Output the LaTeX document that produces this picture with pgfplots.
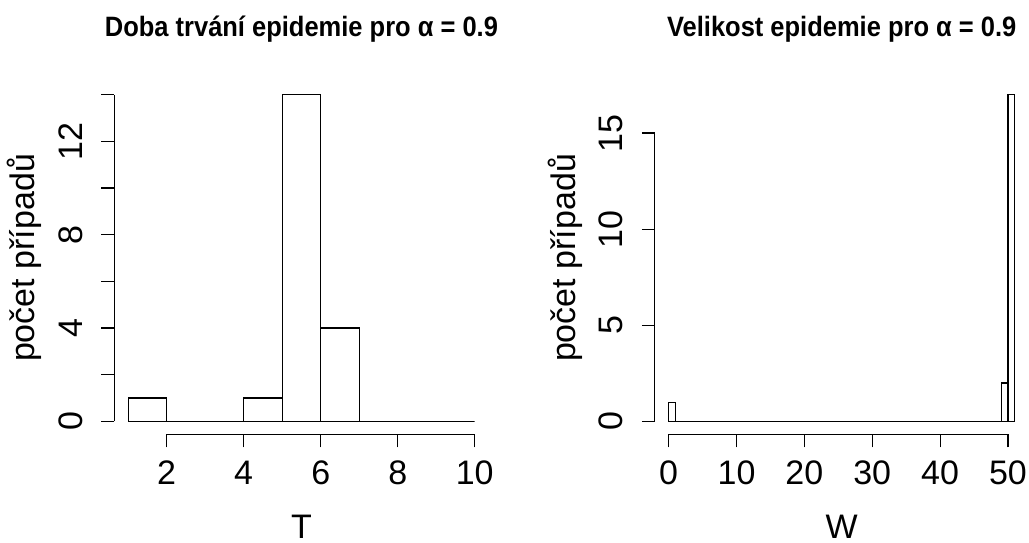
\documentclass[border=0pt]{standalone}
\usepackage{pgfplots}
\pgfplotsset{compat=1.18}
\usepackage{fontspec}
\setmainfont{Liberation Sans}
\newfontfamily\titlefont{Liberation Sans Bold}[FakeStretch=0.91]
\pgfplotsset{
  rhist/.style={
    scale only axis,
    clip=false,
    axis lines=left,
    axis line style={draw=none},
    tick align=outside,
    major tick length=13pt,
    tick style={black, line width=1.2pt},
    /pgf/number format/assume math mode=true,
    tick label style={font=\fontsize{34}{34}\selectfont},
    label style={font=\fontsize{34}{34}\selectfont, inner sep=0pt},
    title style={font=\fontsize{28}{28}\titlefont, inner sep=0pt},
    xticklabel style={anchor=base},
    xticklabel shift={36.6pt},
    yticklabel style={rotate=90, anchor=base},
    yticklabel shift={19pt},
    xlabel style={at={(axis description cs:0.5,-0.294)}, anchor=base},
    ylabel style={at={(axis description cs:-0.213,0.5)}, anchor=base, rotate=0},
    title style={at={(axis description cs:0.5,1.112)}, anchor=base, yshift=0pt},
  }
}
\begin{document}
\begin{tikzpicture}
\useasboundingbox (0pt,0pt) rectangle (1029pt,542pt);
\begin{axis}[rhist,
  at={(114.3pt,107.6pt)}, anchor=south west,
  width=374.3pt, height=352.8pt,
  xmin=0.64, xmax=10.36, ymin=-0.56, ymax=14.56,
  xtick={2,4,6,8,10},
  ytick={0,2,4,6,8,10,12,14},
  yticklabels={0,,4,,8,,12,},
  title={Doba trvání epidemie pro α = 0.9},
  xlabel={T}, ylabel={počet případů}]
\addplot[ybar interval, fill=white, draw=black, line width=1.2pt]
  coordinates {(1,1) (2,0) (3,0) (4,1) (5,14) (6,4) (7,0) (8,0) (9,0) (10,0)};
\draw[black, line width=1.2pt] (axis cs:2,-0.56) -- (axis cs:10,-0.56);
\draw[black, line width=1.2pt] (axis cs:0.64,0) -- (axis cs:0.64,14);
\end{axis}
\begin{axis}[rhist,
  at={(654.8pt,107.6pt)}, anchor=south west,
  width=373.8pt, height=352.8pt,
  xmin=-2.04, xmax=53.04, ymin=-0.68, ymax=17.68,
  xtick={0,10,20,30,40,50},
  ytick={0,5,10,15},
  title={Velikost epidemie pro α = 0.9},
  xlabel={W}, ylabel={počet případů}]
\addplot[ybar interval, fill=white, draw=black, line width=1.2pt]
  coordinates {(0,1) (1,0) (2,0) (3,0) (4,0) (5,0) (6,0) (7,0) (8,0) (9,0)
  (10,0) (11,0) (12,0) (13,0) (14,0) (15,0) (16,0) (17,0) (18,0) (19,0)
  (20,0) (21,0) (22,0) (23,0) (24,0) (25,0) (26,0) (27,0) (28,0) (29,0)
  (30,0) (31,0) (32,0) (33,0) (34,0) (35,0) (36,0) (37,0) (38,0) (39,0)
  (40,0) (41,0) (42,0) (43,0) (44,0) (45,0) (46,0) (47,0) (48,0) (49,2)
  (50,17) (51,0)};
\draw[black, line width=1.2pt] (axis cs:0,-0.68) -- (axis cs:50,-0.68);
\draw[black, line width=1.2pt] (axis cs:-2.04,0) -- (axis cs:-2.04,15);
\end{axis}
\end{tikzpicture}
\end{document}
